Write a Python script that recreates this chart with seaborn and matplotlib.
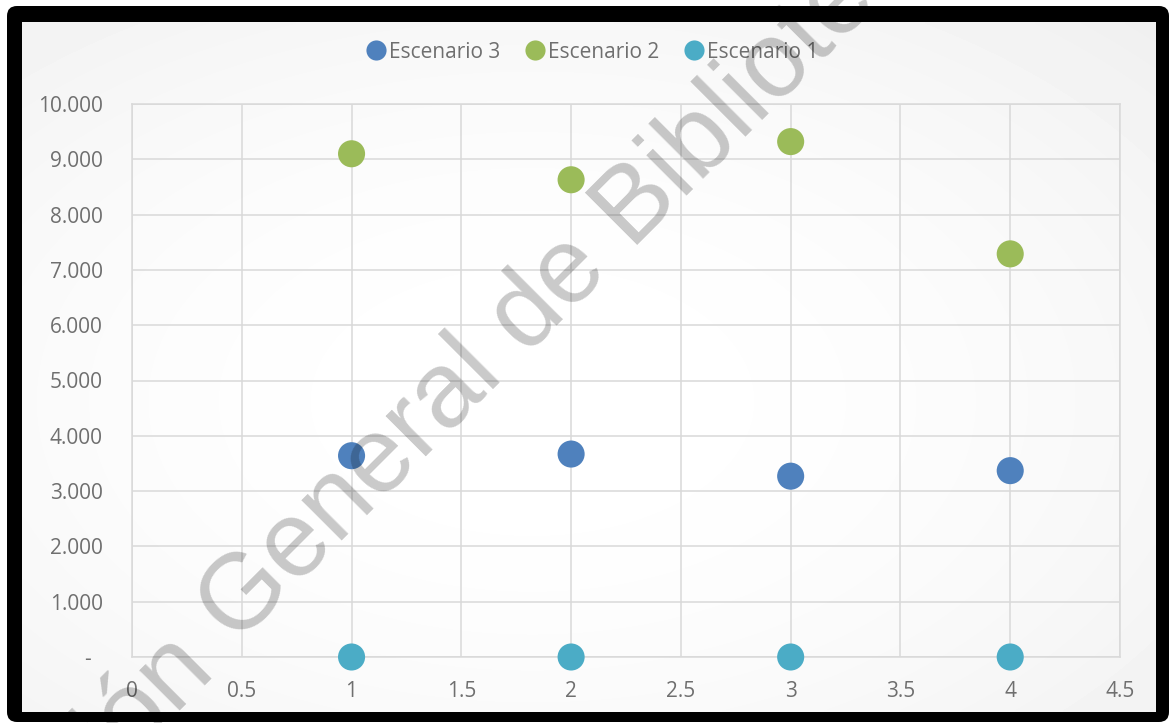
import numpy as np
import pandas as pd
import matplotlib
matplotlib.use("Agg")
import matplotlib.pyplot as plt
from matplotlib.patches import FancyBboxPatch
from matplotlib.lines import Line2D
import seaborn as sns

# Series data
x_values = [1, 2, 3, 4]
escenario_3 = [3640, 3670, 3270, 3370]
escenario_2 = [9100, 8630, 9320, 7290]
escenario_1 = [0, 0, 0, 0]

series_names = ["Escenario 3", "Escenario 2", "Escenario 1"]
series_colors = ["#4f81bd", "#9bbb59", "#4bacc6"]

x_ticks = [0, 0.5, 1, 1.5, 2, 2.5, 3, 3.5, 4, 4.5]
x_tick_labels = ["0", "0.5", "1", "1.5", "2", "2.5", "3", "3.5", "4", "4.5"]
y_ticks = [0, 1000, 2000, 3000, 4000, 5000, 6000, 7000, 8000, 9000, 10000]
y_tick_labels = ["-  ", "1.000", "2.000", "3.000", "4.000", "5.000",
                 "6.000", "7.000", "8.000", "9.000", "10.000"]

watermark_head = "Dirección"
watermark_tail = "General de Bibliotecas"

df = pd.concat([
    pd.DataFrame({"x": x_values, "valor": escenario_3, "serie": series_names[0]}),
    pd.DataFrame({"x": x_values, "valor": escenario_2, "serie": series_names[1]}),
    pd.DataFrame({"x": x_values, "valor": escenario_1, "serie": series_names[2]}),
], ignore_index=True)

sns.set_theme(style="white")
plt.rcParams["font.family"] = ["Open Sans", "DejaVu Sans"]

W, H = 1170, 723
fig = plt.figure(figsize=(W / 100, H / 100), dpi=100)
fig.patch.set_facecolor("white")

# Frame and gradient backdrop, in pixel coordinates
bg = fig.add_axes([0, 0, 1, 1])
bg.set_xlim(0, W)
bg.set_ylim(H, 0)
bg.axis("off")
bg.add_patch(FancyBboxPatch((7, 6), 1162, 716,
                            boxstyle="round,pad=0,rounding_size=10",
                            facecolor="black", edgecolor="none"))
gx, gy = np.meshgrid(np.linspace(0, 1, 300), np.linspace(0, 1, 200))
dist = np.sqrt(((gx - 0.45) / 0.8) ** 2 + ((gy - 0.55) / 0.8) ** 2)
shade = 1.0 - 0.065 * np.clip(dist, 0, 1) ** 2
bg.imshow(shade, cmap="gray", vmin=0, vmax=1, extent=(22, 1156, 712, 22),
          aspect="auto", interpolation="bilinear", zorder=1)
bg.set_xlim(0, W)
bg.set_ylim(H, 0)

# Scatter chart
ax = fig.add_axes([132 / W, 1 - 657 / H, 988 / W, 553 / H])
ax.patch.set_alpha(0)
sns.scatterplot(data=df, x="x", y="valor", hue="serie", hue_order=series_names,
                palette=series_colors, s=380, linewidth=0, legend=False,
                ax=ax, zorder=3, clip_on=False)
ax.set_xlim(0, 4.5)
ax.set_ylim(0, 10000)
ax.set_xticks(x_ticks, x_tick_labels)
ax.set_yticks(y_ticks, y_tick_labels)
ax.set_xlabel("")
ax.set_ylabel("")
ax.set_axisbelow(True)
ax.grid(True, color="#d9d9d9", linewidth=1.1)
for sp in ax.spines.values():
    sp.set_color("#d9d9d9")
    sp.set_linewidth(1.1)
ax.tick_params(axis="both", length=0, labelsize=15, labelcolor="#6f6f6f")
ax.tick_params(axis="x", pad=17)
ax.tick_params(axis="y", pad=21)

handles = [Line2D([], [], marker="o", linestyle="", color=c,
                  markersize=14.5, markeredgewidth=0) for c in series_colors]
fig.legend(handles, series_names, loc="center",
           bbox_to_anchor=(592 / W, 1 - 52 / H), ncol=3, frameon=False,
           fontsize=15, handlelength=1.0, handletextpad=0.15,
           columnspacing=1.15, labelcolor="#6f6f6f")

# Diagonal watermark
ox, oy = 236, 646
fig.text(ox / W, 1 - oy / H, watermark_tail, rotation=45, rotation_mode="anchor",
         ha="left", va="baseline", fontsize=77, family="Liberation Sans",
         color="black", alpha=0.21, zorder=10)
fig.text((ox - 21) / W, 1 - (oy + 21) / H, watermark_head, rotation=45,
         rotation_mode="anchor", ha="right", va="baseline", fontsize=77,
         family="Liberation Sans", color="black", alpha=0.21, zorder=10)

fig.savefig("out.png", dpi=100)
